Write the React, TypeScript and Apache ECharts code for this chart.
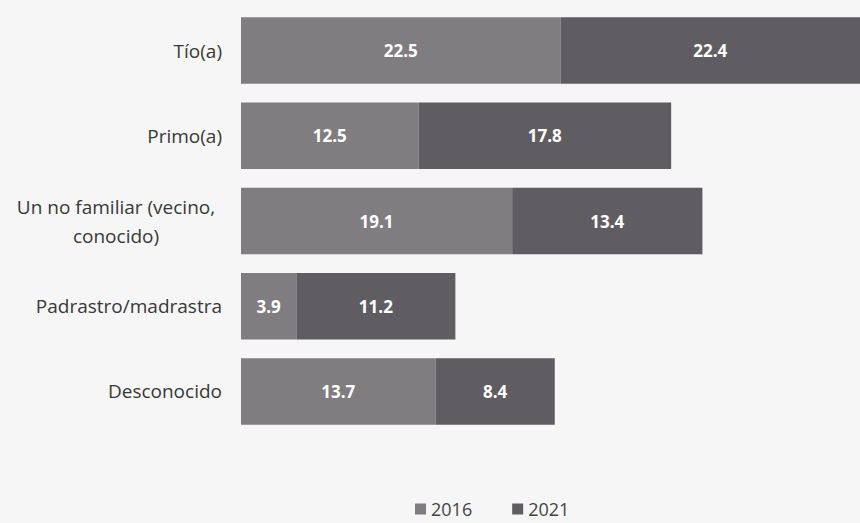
import React, { useEffect, useRef } from "react";
import * as echarts from "echarts";

const categories = [
  "Tío(a)",
  "Primo(a)",
  "Un no familiar (vecino,\nconocido)",
  "Padrastro/madrastra",
  "Desconocido",
];
const values2016 = [22.5, 12.5, 19.1, 3.9, 13.7];
const values2021 = [22.4, 17.8, 13.4, 11.2, 8.4];
const seriesNames = ["2016", "2021"];

export default function App() {
  const ref = useRef<HTMLDivElement>(null);
  useEffect(() => {
    if (!ref.current) return;
    const chart = echarts.init(ref.current, null, { renderer: "svg" });
    const labelStyle = {
      show: true,
      position: "inside",
      color: "#ffffff",
      fontWeight: "bold",
      fontSize: 17,
      fontFamily: "Open Sans, sans-serif",
      formatter: (p: any) => Number(p.value).toFixed(1),
    };
    chart.setOption({
      animation: false,
      backgroundColor: "#f6f6f6",
      grid: { left: 241, right: 0, top: 8, bottom: 89, containLabel: false },
      xAxis: {
        type: "value",
        min: 0,
        max: 43.6,
        show: false,
      },
      yAxis: {
        type: "category",
        data: categories,
        inverse: true,
        axisLine: { show: false },
        axisTick: { show: false },
        axisLabel: {
          margin: 19,
          fontSize: 19,
          color: "#383838",
          fontFamily: "Open Sans, sans-serif",
          lineHeight: 29,
          formatter: (v: string) =>
            v.indexOf("\n") >= 0 ? `{c|${v.replace("\n", "}\n{c|")}}` : v,
          rich: {
            c: {
              width: 212,
              align: "center",
              fontSize: 19,
              color: "#383838",
              fontFamily: "Open Sans, sans-serif",
              lineHeight: 29,
            },
          },
        },
      },
      legend: {
        bottom: 0,
        left: 410,
        itemWidth: 11,
        itemHeight: 11,
        itemGap: 40,
        icon: "rect",
        textStyle: {
          fontSize: 18,
          color: "#444444",
          fontFamily: "Open Sans, sans-serif",
        },
        data: seriesNames,
      },
      series: [
        {
          name: seriesNames[0],
          type: "bar",
          stack: "total",
          data: values2016,
          barCategoryGap: "22%",
          itemStyle: { color: "#807d80" },
          label: labelStyle,
        },
        {
          name: seriesNames[1],
          type: "bar",
          stack: "total",
          data: values2021,
          barCategoryGap: "22%",
          itemStyle: { color: "#5f5d61" },
          label: labelStyle,
        },
      ],
    });
    return () => chart.dispose();
  }, []);
  return (
    <div
      ref={ref}
      style={{ position: "absolute", left: 0, top: 0, width: 860, height: 523 }}
    />
  );
}
